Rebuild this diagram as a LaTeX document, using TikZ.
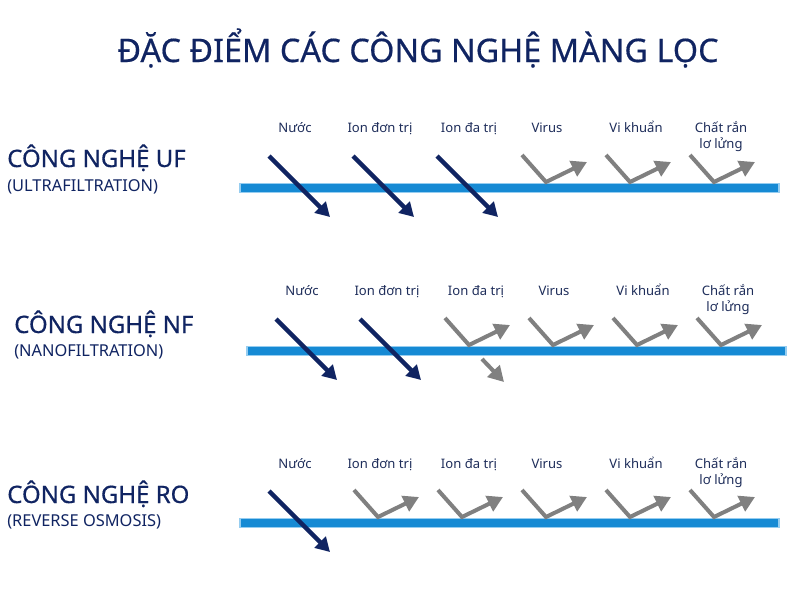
\documentclass[tikz,border=0pt]{standalone}
\usepackage{fontspec}
\setmainfont{Noto Sans}
\newfontfamily\heavyfont[FakeBold=0.5]{Noto Sans}
\usetikzlibrary{arrows.meta}
\definecolor{navy}{RGB}{16,36,98}
\definecolor{txt}{RGB}{30,45,90}
\definecolor{barblue}{RGB}{22,138,212}
\definecolor{barhalo}{RGB}{150,205,240}
\definecolor{grayarr}{RGB}{128,128,128}
\tikzset{
  membrane/.style={fill=barblue, draw=barhalo, line width=0.8pt},
  passarr/.style={draw=navy, line width=3.4pt, -{Triangle[length=10.5pt,width=11.5pt]}},
  rejarr/.style={draw=grayarr, line width=3pt, line join=miter, -{Triangle[length=11.5pt,width=12.5pt]}},
  lbl/.style={text=txt, font=\fontsize{9.8}{12}\selectfont, align=center, anchor=base, inner sep=0pt},
  techname/.style={text=navy, font=\heavyfont\fontsize{18}{20}\selectfont, anchor=base west, inner sep=0pt},
  techsub/.style={text=navy, font=\fontsize{12.3}{15}\selectfont, anchor=base west, inner sep=0pt},
  titlestyle/.style={text=navy, font=\heavyfont\fontsize{24.3}{28}\selectfont, anchor=base, inner sep=0pt}
}
\begin{document}
\begin{tikzpicture}[x=0.75pt,y=-0.75pt]
\useasboundingbox (0,0) rectangle (800,600);
\fill[white] (0,0) rectangle (800,600);
\node[titlestyle] (title) at (418,62) {ĐẶC ĐIỂM CÁC CÔNG NGHỆ MÀNG LỌC};

% ---------- row labels ----------
\node[techname] (uf) at (7,167) {CÔNG NGHỆ UF};
\node[techsub] (ufs) at (7,191) {(ULTRAFILTRATION)};
\node[techname] (nf) at (14,333) {CÔNG NGHỆ NF};
\node[techsub] (nfs) at (14,356) {(NANOFILTRATION)};
\node[techname] (ro) at (7,503) {CÔNG NGHỆ RO};
\node[techsub] (ros) at (7,526) {(REVERSE OSMOSIS)};

% ---------- column labels ----------
\foreach \r/\Y/\dx in {1/132/0, 2/295/7, 3/468/0}{
  \node[lbl] (n\r a) at (295+\dx,\Y) {Nước};
  \node[lbl] (n\r b) at (380+\dx,\Y) {Ion đơn trị};
  \node[lbl] (n\r c) at (469+\dx,\Y) {Ion đa trị};
  \node[lbl] (n\r d) at (547+\dx,\Y) {Virus};
  \node[lbl] (n\r e) at (636+\dx,\Y) {Vi khuẩn};
  \node[lbl] (n\r f) at (721+\dx,\Y+16) {Chất rắn\\lơ lửng};
}

% ---------- membranes ----------
\foreach \r/\Y/\dx in {1/188/0, 2/351/7, 3/523/0}{
  \path[membrane] (240+\dx,\Y-4.5) rectangle (779+\dx,\Y+4.5);
}

% ---------- rejected (gray) ----------
\foreach \r/\Y/\dx/\ks in {1/188/0/{3,4,5}, 2/351/7/{2,3,4,5}, 3/523/0/{1,2,3,4,5}}{
  \foreach \k in \ks {
    \pgfmathsetmacro{\b}{294+84*\k+\dx}
    \coordinate (g\r\k s) at (\b-24,\Y-33);
    \coordinate (g\r\k m) at (\b,\Y-6);
    \coordinate (g\r\k t) at (\b+41,\Y-26);
    \draw[rejarr] (g\r\k s) -- (g\r\k m) -- (g\r\k t);
  }
}
% partial passage in NF for multivalent ions
\coordinate (p2s) at (482,359);
\coordinate (p2t) at (504,382);
\draw[rejarr] (p2s) -- (p2t);

% ---------- passing (navy) ----------
\foreach \r/\Y/\dx/\ks in {1/188/0/{0,1,2}, 2/351/7/{0,1}, 3/523/0/{0}}{
  \foreach \k in \ks {
    \pgfmathsetmacro{\c}{301+84*\k+\dx}
    \coordinate (d\r\k s) at (\c-32,\Y-32);
    \coordinate (d\r\k t) at (\c+29,\Y+29);
    \draw[passarr] (d\r\k s) -- (d\r\k t);
  }
}
\end{tikzpicture}
\end{document}
